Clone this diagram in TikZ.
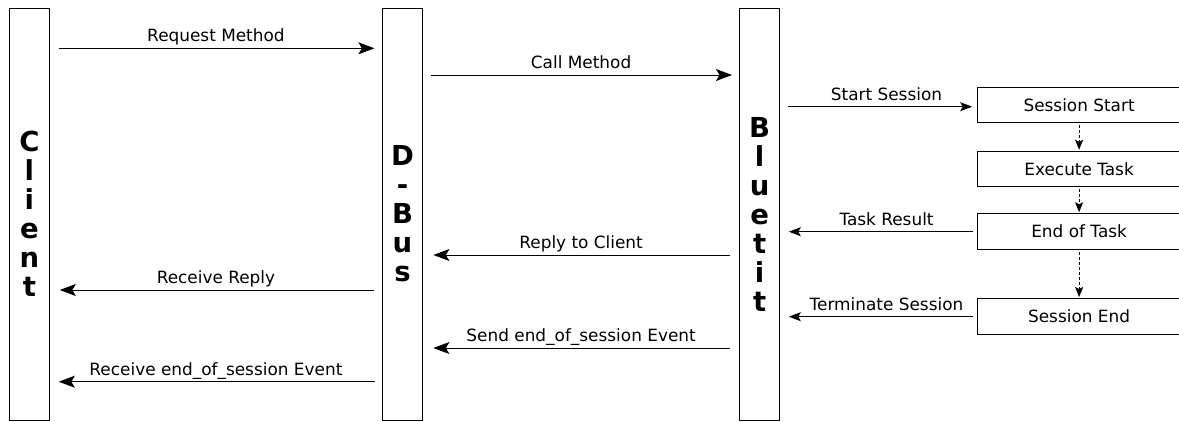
\documentclass[tikz,border=0pt]{standalone}
\usepackage{fontspec}
\setmainfont{DejaVu Sans}
\usetikzlibrary{arrows.meta}
\begin{document}
\begin{tikzpicture}[x=1pt,y=-1pt,
  lifeline/.style={draw, line width=1pt, minimum width=39.8pt, minimum height=412pt,
    inner sep=0pt, align=center, font=\fontsize{27.5}{29}\selectfont\bfseries},
  state/.style={draw, line width=1pt, minimum width=202.8pt, minimum height=35.5pt,
    inner sep=0pt, font=\fontsize{16.9}{20}\selectfont},
  msg/.style={line width=1pt, -{Stealth[length=16pt,width=12pt,inset=3.5pt]}},
  smsg/.style={line width=1pt, -{Stealth[length=12pt,width=9pt,inset=2.5pt]}},
  flow/.style={line width=1pt, dash pattern=on 3pt off 2pt,
    -{Stealth[length=10pt,width=8pt,inset=2pt]}},
  lbl/.style={anchor=base, yshift=6.5pt, inner sep=0pt, font=\fontsize{16.9}{20}\selectfont}
]
\useasboundingbox (0,0) rectangle (1179,421);

% lifelines
\node[lifeline] (client)  at (29.4,214)  {C\\l\\i\\e\\n\\t};
\node[lifeline] (dbus)    at (402.5,214) {D\\-\\B\\u\\s};
\node[lifeline] (bluetit) at (759.7,214) {B\\l\\u\\e\\t\\i\\t};

% session states
\node[state] (s1) at (1079.1,105.2) {Session Start};
\node[state] (s2) at (1079.1,169)   {Execute Task};
\node[state] (s3) at (1079.1,231.5) {End of Task};
\node[state] (s4) at (1079.1,316.3) {Session End};

% state transitions
\draw[flow, shorten <=2pt, shorten >=1pt] (s1.south) -- (s2.north);
\draw[flow, shorten <=2pt, shorten >=1pt] (s2.south) -- (s3.north);
\draw[flow, shorten <=2pt, shorten >=1pt] (s3.south) -- (s4.north);

% client <-> d-bus
\draw[msg, shorten <=8.7pt, shorten >=7.7pt] (client.east |- 0,48.3) -- (dbus.west |- 0,48.3)
  node[lbl, midway] {Request Method};
\draw[msg, shorten <=8.5pt, shorten >=10pt] (dbus.west |- 0,290) -- (client.east |- 0,290)
  node[lbl, midway] {Receive Reply};
\draw[msg, shorten <=7.5pt, shorten >=9pt] (dbus.west |- 0,381.7) -- (client.east |- 0,381.7)
  node[lbl, midway] {Receive end\_of\_session Event};

% d-bus <-> bluetit
\draw[msg, shorten <=7.7pt, shorten >=7.3pt] (dbus.east |- 0,75) -- (bluetit.west |- 0,75)
  node[lbl, midway] {Call Method};
\draw[msg, shorten <=9pt, shorten >=10.5pt] (bluetit.west |- 0,255) -- (dbus.east |- 0,255)
  node[lbl, midway] {Reply to Client};
\draw[msg, shorten <=9pt, shorten >=10.5pt] (bluetit.west |- 0,348) -- (dbus.east |- 0,348)
  node[lbl, midway] {Send end\_of\_session Event};

% bluetit <-> session states
\draw[smsg, shorten <=7.7pt, shorten >=5pt] (bluetit.east |- 0,106.7) -- (s1.west |- 0,106.7)
  node[lbl, pos=0.54] {Start Session};
\draw[smsg, shorten <=4.7pt, shorten >=8.7pt] (s3.west |- 0,231.7) -- (bluetit.east |- 0,231.7)
  node[lbl, pos=0.46] {Task Result};
\draw[smsg, shorten <=4.7pt, shorten >=8.7pt] (s4.west |- 0,316.7) -- (bluetit.east |- 0,316.7)
  node[lbl, pos=0.46] {Terminate Session};
\end{tikzpicture}
\end{document}
